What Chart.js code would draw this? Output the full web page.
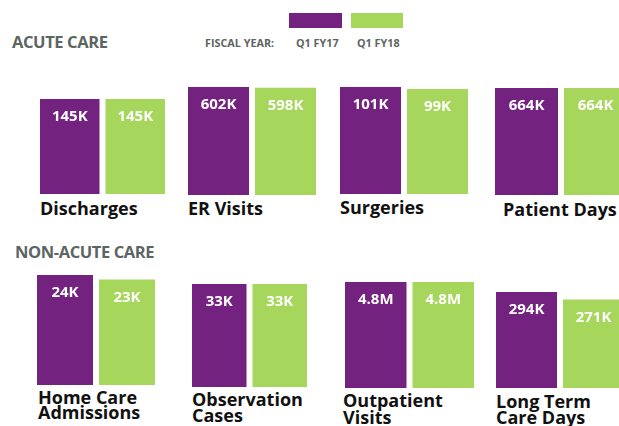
<!DOCTYPE html>
<html>
<head>
<meta charset="utf-8">
<script src="https://cdn.jsdelivr.net/npm/chart.js@4/dist/chart.umd.min.js"></script>
<style>
  html, body { margin: 0; padding: 0; background: #fff; }
  #stage { position: relative; width: 619px; height: 426px; overflow: hidden; font-family: "Open Sans", Lato, sans-serif; }
  #stage canvas { position: absolute; }
  .txt { position: absolute; white-space: nowrap; font-weight: bold; }
  .swatch { position: absolute; }
</style>
</head>
<body>
<div id="stage"></div>
<script>
// Data, in thousands
const metrics = ['Discharges', 'ER Visits', 'Surgeries', 'Patient Days',
  'Home Care Admissions', 'Observation Cases', 'Outpatient Visits', 'Long Term Care Days'];
const labelLines = [['Discharges'], ['ER Visits'], ['Surgeries'], ['Patient Days'],
  ['Home Care', 'Admissions'], ['Observation', 'Cases'], ['Outpatient', 'Visits'], ['Long Term', 'Care Days']];
const fy17 = [145, 602, 101, 664, 24, 33, 4800, 294];
const fy18 = [145, 598, 99, 664, 23, 33, 4800, 271];
const seriesNames = ['Q1 FY17', 'Q1 FY18'];
const sectionTitles = ['ACUTE CARE', 'NON-ACUTE CARE'];
const legendTitle = 'FISCAL YEAR:';

const PURPLE = '#73227f';
const GREEN = '#a6d65c';
const HEAD_GREY = '#5c6562';
const GAP = 6;

// Layout per panel: first bar left edge, span to second bar right edge,
// bar bottom, pixel height of the FY17 bar, chart top, label x, first label baseline, line step
const panels = [
  { x: 40,  w: 125, bottom: 194, barH: 95,  top: 80,  lx: 40,  ly: 215, step: 16 },
  { x: 188, w: 128, bottom: 195, barH: 108, top: 80,  lx: 188, ly: 215, step: 16 },
  { x: 340, w: 128, bottom: 194, barH: 107, top: 80,  lx: 340, ly: 214, step: 16 },
  { x: 495, w: 132, bottom: 195, barH: 107, top: 80,  lx: 503, ly: 216, step: 16 },
  { x: 37,  w: 118, bottom: 385, barH: 110, top: 265, lx: 38,  ly: 404, step: 15 },
  { x: 192, w: 115, bottom: 387, barH: 103, top: 265, lx: 192, ly: 406, step: 16 },
  { x: 345, w: 129, bottom: 388, barH: 106, top: 265, lx: 343, ly: 407, step: 17 },
  { x: 496, w: 128, bottom: 388, barH: 96,  top: 265, lx: 496, ly: 408, step: 16 }
];

const stage = document.getElementById('stage');

function fmt(v) {
  return v >= 1000 ? (v / 1000).toFixed(1) + 'M' : Math.round(v) + 'K';
}

// place text so that its baseline sits at y
function placeText(text, x, baseline, size, color, spacing) {
  const d = document.createElement('div');
  d.className = 'txt';
  d.textContent = text;
  d.style.fontSize = size + 'px';
  d.style.lineHeight = size + 'px';
  d.style.color = color;
  if (spacing) d.style.letterSpacing = spacing + 'px';
  d.style.left = x + 'px';
  d.style.top = (baseline - 0.888 * size) + 'px';
  stage.appendChild(d);
  return d;
}

function placeSwatch(x, y, w, h, color) {
  const s = document.createElement('div');
  s.className = 'swatch';
  Object.assign(s.style, { left: x + 'px', top: y + 'px', width: w + 'px', height: h + 'px', background: color });
  stage.appendChild(s);
}

// white value labels inside the top of each bar
const valueLabels = {
  id: 'valueLabels',
  afterDatasetsDraw(chart) {
    const c = chart.ctx;
    c.save();
    c.fillStyle = '#fff';
    c.font = 'bold 15px "Open Sans"';
    c.textAlign = 'center';
    c.textBaseline = 'alphabetic';
    chart.data.datasets.forEach((ds, i) => {
      const bar = chart.getDatasetMeta(i).data[0];
      c.fillText(fmt(ds.data[0]), bar.x, bar.y + 22);
    });
    c.restore();
  }
};

function drawAll() {
  // headings and legend
  placeText(sectionTitles[0], 12, 49, 16.5, HEAD_GREY, -0.4);
  placeText(sectionTitles[1], 15, 259, 16.5, HEAD_GREY, -0.4);
  placeText(legendTitle, 205, 48, 10.8, HEAD_GREY);
  placeSwatch(289, 13, 53, 15, PURPLE);
  placeSwatch(351, 13, 52, 15, GREEN);
  placeText(seriesNames[0], 296, 48, 10.8, HEAD_GREY);
  placeText(seriesNames[1], 357, 48, 10.8, HEAD_GREY);

  panels.forEach((p, i) => {
    const W = p.w + GAP;
    const H = p.bottom - p.top;
    const cv = document.createElement('canvas');
    cv.width = W;
    cv.height = H;
    cv.style.left = (p.x - GAP / 2) + 'px';
    cv.style.top = p.top + 'px';
    cv.style.width = W + 'px';
    cv.style.height = H + 'px';
    stage.appendChild(cv);

    new Chart(cv, {
      type: 'bar',
      data: {
        labels: [metrics[i]],
        datasets: [
          { label: seriesNames[0], data: [fy17[i]], backgroundColor: PURPLE },
          { label: seriesNames[1], data: [fy18[i]], backgroundColor: GREEN }
        ]
      },
      options: {
        responsive: false,
        animation: false,
        devicePixelRatio: 1,
        layout: { padding: 0 },
        datasets: { bar: { categoryPercentage: 1, barPercentage: 1 - 2 * GAP / W } },
        scales: {
          x: { display: false },
          y: { display: false, min: 0, max: fy17[i] * H / p.barH }
        },
        plugins: { legend: { display: false }, tooltip: { enabled: false } }
      },
      plugins: [valueLabels]
    });

    labelLines[i].forEach((line, k) => {
      placeText(line, p.lx, p.ly + k * p.step, 18, '#111');
    });
  });
}

document.fonts.load('bold 15px "Open Sans"').then(drawAll, drawAll);
</script>
</body>
</html>
